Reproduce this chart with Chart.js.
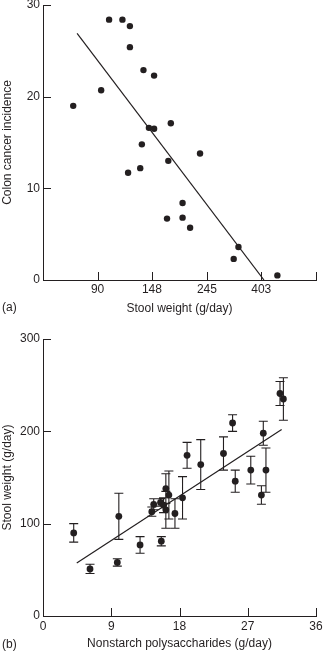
<!DOCTYPE html>
<html><head><meta charset="utf-8">
<script src="https://cdn.jsdelivr.net/npm/chart.js@4"></script>
<style>
html,body{margin:0;padding:0;background:#fff;}
#wrap{position:relative;width:323px;height:651px;overflow:hidden;}
canvas{position:absolute;left:0;}
.pl{position:absolute;left:2px;font:12px "Liberation Sans",Arial,sans-serif;color:#231f20;line-height:14px;}
</style></head><body>
<div id="wrap">
<canvas id="ca" width="323" height="320" style="top:0"></canvas>
<canvas id="cb" width="323" height="331" style="top:320px"></canvas>
<div class="pl" style="top:300px">(a)</div>
<div class="pl" style="top:637px">(b)</div>
</div>
<script>
// ---- Panel (a): colon cancer incidence vs stool weight ----
const stoolWeight = [72, 93, 100, 113, 121, 121, 137, 151, 144, 151, 176, 135, 230, 119, 133, 172, 196, 170, 196, 210, 327, 313, 467];
const colonCancer = [19.0, 20.7, 28.4, 28.4, 27.7, 25.4, 22.9, 22.3, 16.6, 16.5, 17.1, 14.8, 13.8, 11.7, 12.2, 13.0, 8.4, 6.7, 6.8, 5.7, 3.6, 2.3, 0.5];
const fitAx = [74.6, 413];
const fitAy = [26.9, 0];
const xTicksA = [90, 148, 245, 403];
const yTicksA = [0, 10, 20, 30];

// ---- Panel (b): stool weight vs nonstarch polysaccharides ----
const nsp    = [4.05, 6.2, 9.8, 10.0, 12.8, 15.6, 14.35, 14.6, 15.5, 15.9, 16.2, 16.2, 16.6, 17.4, 18.4, 19.0, 20.8, 23.8, 25.0, 25.35, 27.4, 29.05, 29.4, 28.8, 31.25, 31.7];
const stoolB = [90, 51, 58, 108, 77, 81, 113, 121, 123, 120, 115, 138, 131, 111, 128, 174, 164, 176, 209, 146, 158, 198, 158, 131, 241, 235];
const errB   = [10, 5, 4, 25, 9, 5, 5, 6, 4, 8, 20, 16, 26, 16, 23, 14, 27, 18, 9, 12, 15, 13, 24, 10, 13, 23];
const fitBx = [4.45, 31.47];
const fitBy = [57.5, 202];
const xTicksB = [0, 9, 18, 27, 36];
const yTicksB = [0, 100, 200, 300];

const INK = '#231f20';
Chart.defaults.font.family = '"Liberation Sans", Arial, sans-serif';
Chart.defaults.font.size = 12;
Chart.defaults.color = INK;

const inwardTicks = {
  id: 'inwardTicks',
  afterDraw(chart, args, opts) {
    const ctx = chart.ctx, xs = chart.scales.x, ys = chart.scales.y;
    ctx.save();
    ctx.strokeStyle = INK; ctx.lineWidth = 1;
    ctx.beginPath();
    const xv = xs.ticks.map(t => t.value);
    if (opts.tickAtMax) xv.push(xs.max);
    xv.forEach(v => {
      const px = Math.round(xs.getPixelForValue(v)) + 0.5;
      ctx.moveTo(px, xs.top); ctx.lineTo(px, xs.top - 8);
    });
    ys.ticks.forEach(t => {
      const py = Math.round(ys.getPixelForValue(t.value)) + 0.5;
      ctx.moveTo(ys.right, py); ctx.lineTo(ys.right + 8, py);
    });
    ctx.stroke();
    ctx.restore();
  }
};

const errorBars = {
  id: 'errorBars',
  beforeDatasetsDraw(chart, args, opts) {
    if (!opts.err) return;
    const ctx = chart.ctx, xs = chart.scales.x, ys = chart.scales.y;
    ctx.save();
    ctx.strokeStyle = INK; ctx.lineWidth = 1.1;
    ctx.beginPath();
    opts.xv.forEach((xv, i) => {
      const px = xs.getPixelForValue(xv);
      const t = ys.getPixelForValue(opts.yv[i] + opts.err[i]);
      const b = ys.getPixelForValue(opts.yv[i] - opts.err[i]);
      ctx.moveTo(px, t); ctx.lineTo(px, b);
      ctx.moveTo(px - 4.5, t); ctx.lineTo(px + 4.5, t);
      ctx.moveTo(px - 4.5, b); ctx.lineTo(px + 4.5, b);
    });
    ctx.stroke();
    ctx.restore();
  }
};

function axisCommon(extra) {
  return Object.assign({
    grid: { drawOnChartArea: false, drawTicks: false },
    border: { display: true, color: INK, width: 1 },
  }, extra);
}

function fitY(w) {
  return s => { s.width = w; s.paddingTop = 0; s.paddingBottom = 0; };
}
function fitX(h) {
  return s => { s.height = h; s.paddingLeft = 0; s.paddingRight = 0; };
}

new Chart(document.getElementById('ca'), {
  type: 'scatter',
  data: {
    datasets: [
      { data: stoolWeight.map((v, i) => ({ x: v, y: colonCancer[i] })),
        backgroundColor: INK, borderColor: INK, pointRadius: 3.2, pointBorderWidth: 0 },
      { data: fitAx.map((v, i) => ({ x: v, y: fitAy[i] })),
        showLine: true, pointRadius: 0, borderColor: INK, borderWidth: 1.2 }
    ]
  },
  options: {
    responsive: false, animation: false, devicePixelRatio: 1,
    layout: { padding: { left: 0, right: 7, top: 5, bottom: 0 } },
    plugins: { legend: { display: false }, tooltip: { enabled: false }, inwardTicks: { tickAtMax: true } },
    scales: {
      x: axisCommon({
        type: 'logarithmic', min: Math.exp(4), max: Math.exp(6.5),
        afterBuildTicks: s => { s.ticks = xTicksA.map(v => ({ value: v })); },
        ticks: { autoSkip: false, maxRotation: 0, padding: 2, callback: v => String(v) },
        title: { display: true, text: 'Stool weight (g/day)', padding: { top: 0, bottom: 4 } },
        afterFit: fitX(40)
      }),
      y: axisCommon({
        min: 0, max: 30,
        afterBuildTicks: s => { s.ticks = yTicksA.map(v => ({ value: v })); },
        ticks: { padding: 3 },
        title: { display: true, text: 'Colon cancer incidence', padding: { top: 0, bottom: 0 } },
        afterFit: fitY(43)
      })
    }
  },
  plugins: [inwardTicks]
});

new Chart(document.getElementById('cb'), {
  type: 'scatter',
  data: {
    datasets: [
      { data: nsp.map((v, i) => ({ x: v, y: stoolB[i] })),
        backgroundColor: INK, borderColor: INK, pointRadius: 3.4, pointBorderWidth: 0 },
      { data: fitBx.map((v, i) => ({ x: v, y: fitBy[i] })),
        showLine: true, pointRadius: 0, borderColor: INK, borderWidth: 1.2 }
    ]
  },
  options: {
    responsive: false, animation: false, devicePixelRatio: 1,
    layout: { padding: { left: 0, right: 7, top: 19, bottom: 0 } },
    plugins: { legend: { display: false }, tooltip: { enabled: false },
      errorBars: { xv: nsp, yv: stoolB, err: errB } },
    scales: {
      x: axisCommon({
        min: 0, max: 36,
        afterBuildTicks: s => { s.ticks = xTicksB.map(v => ({ value: v })); },
        ticks: { autoSkip: false, maxRotation: 0, padding: 3 },
        title: { display: true, text: 'Nonstarch polysaccharides (g/day)', padding: { top: 0, bottom: 0 } },
        afterFit: fitX(35)
      }),
      y: axisCommon({
        min: 0, max: 300,
        afterBuildTicks: s => { s.ticks = yTicksB.map(v => ({ value: v })); },
        ticks: { padding: 3 },
        title: { display: true, text: 'Stool weight (g/day)', padding: { top: 0, bottom: 0 } },
        afterFit: fitY(43)
      })
    }
  },
  plugins: [inwardTicks, errorBars]
});
</script>
</body></html>
